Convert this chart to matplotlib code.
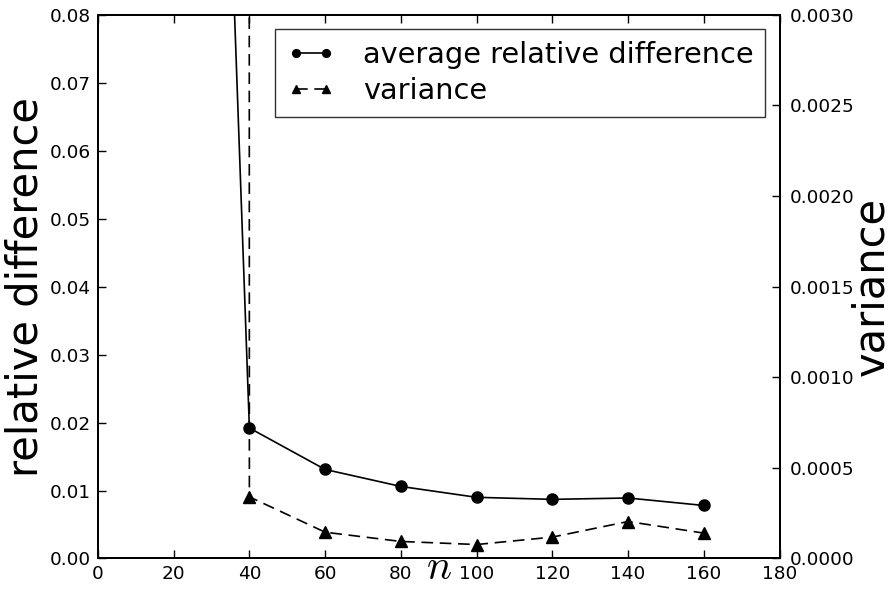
import matplotlib
matplotlib.use("Agg")
import matplotlib.pyplot as plt
from matplotlib.ticker import FormatStrFormatter, MultipleLocator

n_values = [20, 40, 60, 80, 100, 120, 140, 160]
avg_rel_diff = [0.33, 0.0192, 0.0131, 0.0106, 0.0090, 0.0087, 0.0089, 0.0078]
variance = [2.0, 0.00034, 0.000145, 0.000094, 0.000077, 0.000118, 0.000204, 0.00014]

plt.rcParams['mathtext.fontset'] = 'cm'
plt.rcParams['font.family'] = 'DejaVu Sans'

fig = plt.figure(figsize=(8.94, 6.06), dpi=100)
ax1 = fig.add_axes([0.1095, 0.0784, 0.7625, 0.8973])
ax2 = ax1.twinx()

l1, = ax1.plot(n_values, avg_rel_diff, color='black', marker='o', markersize=8,
               linewidth=1.2, label='average relative difference')
l2, = ax2.plot(n_values, variance, color='black', marker='^', markersize=8,
               linewidth=1.2, linestyle='--', dashes=(7, 4), label='variance')

ax1.set_xlim(0, 180)
ax1.set_ylim(0, 0.08)
ax2.set_ylim(0, 0.003)
ax1.xaxis.set_major_locator(MultipleLocator(20))
ax1.yaxis.set_major_locator(MultipleLocator(0.01))
ax2.yaxis.set_major_locator(MultipleLocator(0.0005))
ax1.yaxis.set_major_formatter(FormatStrFormatter('%.2f'))
ax2.yaxis.set_major_formatter(FormatStrFormatter('%.4f'))

ax1.tick_params(axis='x', direction='in', top=True, length=6, width=1, labelsize=13.3, pad=5)
ax1.tick_params(axis='y', direction='in', length=6, width=1, labelsize=13.3, pad=5)
ax2.tick_params(axis='y', direction='in', length=6, width=1, labelsize=13.3, pad=7)

for ax in (ax1, ax2):
    for s in ax.spines.values():
        s.set_linewidth(1.4)

ax1.set_xlabel('$n$', fontsize=30, labelpad=-27)
ax1.set_ylabel('relative difference', fontsize=30, labelpad=2)
ax2.set_ylabel('variance', fontsize=30, labelpad=-3)

leg = ax2.legend([l1, l2], ['average relative difference', 'variance'], loc='upper right',
                 fontsize=20.7, numpoints=2, markerscale=0.7, handlelength=1.65,
                 handletextpad=1.0, borderpad=0.4, labelspacing=0.3,
                 fancybox=False, borderaxespad=0.5)
leg.get_frame().set_edgecolor('black')
leg.get_frame().set_linewidth(1.0)

fig.savefig('out.png', dpi=100)
